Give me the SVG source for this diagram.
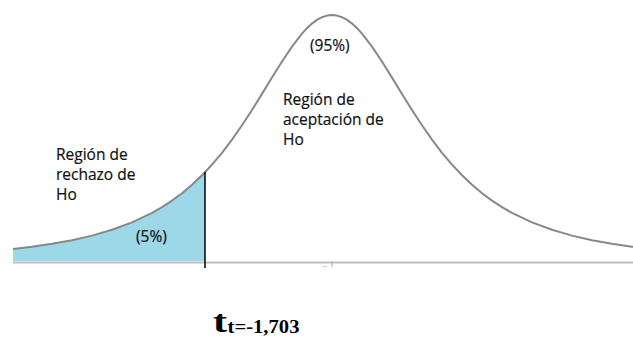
<svg xmlns="http://www.w3.org/2000/svg" width="633" height="340" viewBox="0 0 633 340">
  <style>
    .lbl { font-family: "Open Sans", "DejaVu Sans", sans-serif; font-size: 15.5px; fill: #111; stroke: #111; stroke-width: 0.2px; }
    .tt { font-family: "Liberation Serif", "Times New Roman", serif; font-weight: bold; fill: #000; }
  </style>
  <rect x="0" y="0" width="633" height="340" fill="#ffffff"/>
  <g id="rejection-area">
    <path d="M13,261 L13,248.9 L32,246.7 L52,243.8 L72,240.2 L92,235.6 L112,229.8 L132,222.4 L152,212.9 L162,207.1 L172,200.6 L182,193.2 L192,184.8 L202,175.3 L205,172.2 L205,261 Z" fill="#9dd8e8"/>
  </g>
  <g id="axis">
    <line x1="13" y1="262.5" x2="633" y2="262.5" stroke="#bdbdbd" stroke-width="2"/>
    <line x1="332" y1="261" x2="332" y2="267" stroke="#b0b0b0" stroke-width="1"/>
    <line x1="323" y1="266.5" x2="327" y2="266.5" stroke="#c8c8c8" stroke-width="1"/>
  </g>
  <g id="curve">
    <polyline fill="none" stroke="#888888" stroke-width="2" stroke-linejoin="round" points="13,248.9 32,246.7 52,243.8 72,240.2 92,235.6 112,229.8 132,222.4 152,212.9 162,207.1 172,200.6 182,193.2 192,184.8 202,175.3 205,172.2 212,164.6 222,152.8 232,139.6 242,125.3 252,110 262,93.9 272,77.6 282,61.5 292,46.6 302,33.7 307,28.2 312,23.6 317,19.9 322,17.2 327,15.6 332,15 337,15.6 342,17.2 347,19.9 352,23.6 357,28.2 362,33.7 372,46.6 382,61.5 392,77.6 402,93.9 412,110 422,125.3 432,139.6 442,152.8 452,164.6 462,175.3 472,184.8 482,193.2 492,200.6 502,207.1 512,212.9 532,222.4 552,229.8 572,235.6 592,240.2 612,243.8 632,246.7 633,246.8"/>
  </g>
  <g id="critical-line">
    <line x1="205" y1="172" x2="205" y2="268" stroke="#000" stroke-width="1.5"/>
  </g>
  <g id="rejection-label">
    <text class="lbl" x="56" y="159.5">Región de</text>
    <text class="lbl" x="56" y="180">rechazo de</text>
    <text class="lbl" x="56" y="200">Ho</text>
    <text class="lbl" x="136" y="241.5">(5%)</text>
  </g>
  <g id="acceptance-label">
    <text class="lbl" x="310" y="50.5">(95%)</text>
    <text class="lbl" x="283" y="105">Región de</text>
    <text class="lbl" x="283" y="125">aceptación de</text>
    <text class="lbl" x="283" y="145">Ho</text>
  </g>
  <g id="t-label">
    <text class="tt" x="213" y="332" style="font-size:31px" textLength="14" lengthAdjust="spacingAndGlyphs">t</text>
    <text class="tt" x="227.5" y="333" style="font-size:19.5px" textLength="72" lengthAdjust="spacingAndGlyphs">t=-1,703</text>
  </g>
</svg>
